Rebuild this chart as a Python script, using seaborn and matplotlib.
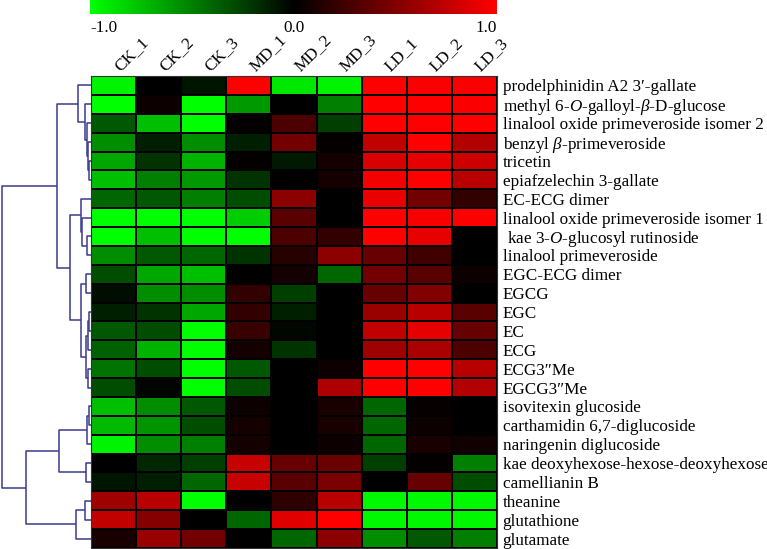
import numpy as np
import pandas as pd
import seaborn as sns
import matplotlib.pyplot as plt
from matplotlib.colors import LinearSegmentedColormap

# %% dados lidos do heatmap (valores normalizados -1 a 1)
samples = ['CK_1', 'CK_2', 'CK_3', 'MD_1', 'MD_2', 'MD_3', 'LD_1', 'LD_2', 'LD_3']
compounds = [
    'prodelphinidin A2 3\u2032-gallate',
    r'methyl 6-$\mathit{O}$-galloyl-$\mathit{\beta}$-D-glucose',
    'linalool oxide primeveroside isomer 2',
    r'benzyl $\mathit{\beta}$-primeveroside',
    'tricetin',
    'epiafzelechin 3-gallate',
    'EC-ECG dimer',
    'linalool oxide primeveroside isomer 1',
    r' kae 3-$\mathit{O}$-glucosyl rutinoside',
    'linalool primeveroside',
    'EGC-ECG dimer',
    'EGCG',
    'EGC',
    'EC',
    'ECG',
    'ECG3\u2033Me',
    'EGCG3\u2033Me',
    'isovitexin glucoside',
    'carthamidin 6,7-diglucoside',
    'naringenin diglucoside',
    'kae deoxyhexose-hexose-deoxyhexose',
    'camellianin B',
    'theanine',
    'glutathione',
    'glutamate',
]
CK_1 = [-0.95, -1.0, -0.35, -0.55, -0.65, -0.75, -0.4, -1.0, -1.0, -0.55, -0.3, -0.05, -0.12,
        -0.35, -0.38, -0.45, -0.3, -0.75, -0.72, -0.95, 0.0, -0.08, 0.62, 0.75, 0.1]
CK_2 = [0.0, 0.05, -0.75, -0.12, -0.2, -0.5, -0.35, -1.0, -0.75, -0.35, -0.65, -0.55, -0.2,
        -0.3, -0.7, -0.3, -0.02, -0.55, -0.58, -0.55, -0.15, -0.12, 0.72, 0.52, 0.6]
CK_3 = [-0.08, -1.0, -1.0, -0.55, -0.7, -0.6, -0.5, -1.0, -1.0, -0.4, -0.75, -0.55, -0.65,
        -1.0, -1.0, -1.0, -1.0, -0.35, -0.3, -0.5, -0.25, -0.4, -1.0, 0.0, 0.45]
MD_1 = [1.0, -0.6, 0.02, -0.12, 0.02, -0.2, -0.3, -0.8, -1.0, -0.2, 0.0, 0.2, 0.2,
        0.22, 0.08, -0.35, -0.3, 0.05, 0.08, 0.08, 0.78, 0.78, 0.0, -0.4, 0.0]
MD_2 = [-0.9, 0.0, 0.3, 0.45, -0.1, 0.0, 0.55, 0.35, 0.3, 0.15, 0.08, -0.25, -0.12,
        -0.03, -0.2, 0.0, 0.0, 0.0, 0.0, 0.0, 0.4, 0.35, 0.18, 0.88, -0.4]
MD_3 = [-0.95, -0.5, -0.25, 0.02, 0.08, 0.08, 0.0, 0.0, 0.2, 0.55, -0.4, 0.0, 0.0,
        0.0, 0.0, 0.05, 0.68, 0.1, 0.1, 0.05, 0.42, 0.48, 0.72, 1.0, 0.55]
LD_1 = [1.0, 1.0, 1.0, 0.75, 0.85, 0.95, 0.92, 1.0, 1.0, 0.4, 0.45, 0.4, 0.6,
        0.75, 0.62, 1.0, 1.0, -0.4, -0.4, -0.4, -0.25, 0.0, -0.97, -0.97, -0.55]
LD_2 = [0.98, 1.0, 1.0, 1.0, 0.9, 1.0, 0.45, 0.97, 0.9, 0.25, 0.35, 0.5, 0.72,
        0.9, 0.67, 1.0, 1.0, 0.03, 0.05, 0.1, 0.02, 0.4, -0.97, -0.97, -0.35]
LD_3 = [0.98, 0.98, 1.0, 0.7, 0.8, 0.72, 0.2, 1.0, 0.0, 0.0, 0.05, 0.0, 0.35,
        0.4, 0.3, 0.72, 0.7, 0.0, 0.0, 0.07, -0.5, -0.3, -0.97, -0.97, -0.5]

# %% arvore do dendrograma (formato tipo linkage: folhas 0-24, clusters novos a partir de 25)
merge_left = [4, 3, 2, 1, 0, 8, 7, 6, 10, 12, 34, 15, 35, 33, 32, 29, 17, 41, 20, 42, 22, 45, 44, 40]
merge_right = [5, 25, 26, 27, 28, 9, 30, 31, 11, 13, 14, 16, 36, 37, 38, 39, 18, 19, 21, 43, 23, 24, 46, 47]
merge_height = [2, 3, 4, 6, 13, 4, 9, 10, 5, 2, 3, 3, 5, 10, 21, 34, 2, 4, 5, 32, 6, 15, 65, 89.5]

df = pd.DataFrame({'CK_1': CK_1, 'CK_2': CK_2, 'CK_3': CK_3,
                   'MD_1': MD_1, 'MD_2': MD_2, 'MD_3': MD_3,
                   'LD_1': LD_1, 'LD_2': LD_2, 'LD_3': LD_3}, index=compounds)[samples]

# %% fontes
plt.rcParams['font.family'] = ['Liberation Serif', 'DejaVu Serif']
plt.rcParams['mathtext.fontset'] = 'custom'
plt.rcParams['mathtext.rm'] = 'Liberation Serif'
plt.rcParams['mathtext.it'] = 'Liberation Serif:italic'
fs = 12.3

cmap = LinearSegmentedColormap.from_list('gkr', ['#00ff00', '#000000', '#ff0000'])

W, H = 767, 549
fig = plt.figure(figsize=(W / 100, H / 100), dpi=100)
hx0, hx1, hy0, hy1 = 91, 497, 76, 548
ax = fig.add_axes([hx0 / W, 1 - hy1 / H, (hx1 - hx0) / W, (hy1 - hy0) / H])
cax = fig.add_axes([90 / W, 1 - 14 / H, 407 / W, 14 / H])
dax = fig.add_axes([0, 1 - hy1 / H, hx0 / W, (hy1 - hy0) / H])

sns.heatmap(df, ax=ax, cmap=cmap, vmin=-1, vmax=1, linewidths=1.3, linecolor='black',
            cbar_ax=cax, cbar_kws={'orientation': 'horizontal'})

# rotulos das linhas na direita
ax.yaxis.tick_right()
ax.set_yticks(np.arange(len(compounds)) + 0.5)
ax.set_yticklabels(compounds, rotation=0, fontsize=fs)
ax.tick_params(axis='y', length=0, pad=4)
ax.set_xticks([])
ax.set_xlabel('')
ax.set_ylabel('')
for s in ax.spines.values():
    s.set_visible(True)
    s.set_color('#333333')
    s.set_linewidth(0.8)

# rotulos das colunas girados em cima
for i, s in enumerate(samples):
    ax.text(i + 0.7, -0.1, s, rotation=45, ha='left', va='bottom',
            rotation_mode='anchor', fontsize=fs)

# barra de cor
cbar = ax.collections[0].colorbar
cbar.outline.set_visible(False)
cax.set_xticks([])
cax.set_yticks([])
for v, ha in zip([-1.0, 0.0, 1.0], ['left', 'center', 'right']):
    cax.text(v, -1.0, f'{v:.1f}', ha=ha, va='center', fontsize=fs,
             transform=cax.get_xaxis_transform())

# %% dendrograma
n = len(compounds)
pos = {i: (i + 0.5, 0.0) for i in range(n)}
cor = '#3b3b8e'
for k, (l, r, h) in enumerate(zip(merge_left, merge_right, merge_height)):
    yl, hl = pos[l]
    yr, hr = pos[r]
    dax.plot([hl, h, h, hr], [yl, yl, yr, yr], color=cor, lw=1.1, solid_capstyle='butt')
    pos[n + k] = ((yl + yr) / 2, h)
dax.set_ylim(n, 0)
dax.set_xlim(91, 0)
dax.axis('off')

fig.savefig('out.png', dpi=100, facecolor='white')
